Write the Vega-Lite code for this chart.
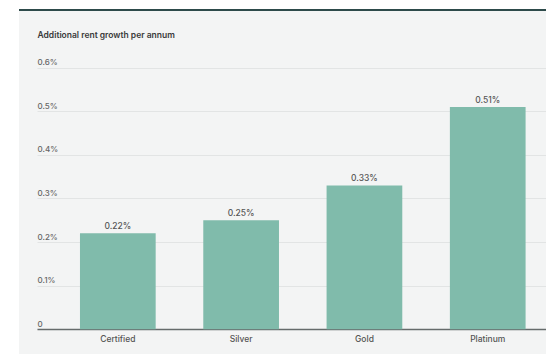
{
  "$schema": "https://vega.github.io/schema/vega-lite/v6.json",
  "width": 527,
  "height": 344,
  "autosize": "none",
  "padding": {"left": 19, "top": 10, "right": 0, "bottom": 0},
  "background": "white",
  "config": {
    "view": {"fill": "#f3f4f4", "stroke": null},
    "font": "Inter"
  },
  "data": {
    "values": [
      {"level": "Certified", "growth": 0.0022},
      {"level": "Silver", "growth": 0.0025},
      {"level": "Gold", "growth": 0.0033},
      {"level": "Platinum", "growth": 0.0051}
    ]
  },
  "layer": [
    {
      "mark": {"type": "bar", "color": "#80bbab"},
      "encoding": {
        "x": {
          "field": "level",
          "type": "nominal",
          "sort": null,
          "scale": {"range": [18, 527], "paddingInner": 0.386, "paddingOuter": 0.257, "align": 0.678},
          "axis": {
            "title": null,
            "offset": -25,
            "labelAngle": 0,
            "ticks": false,
            "tickSize": 0,
            "labelPadding": 5,
            "labelFontSize": 8.5,
            "labelColor": "#555555",
            "labelFontWeight": 500,
            "domainColor": "#666b6b",
            "domainWidth": 1.5,
            "grid": false
          }
        },
        "y": {
          "field": "growth",
          "type": "quantitative",
          "scale": {"domain": [-0.000567, 0.007323], "nice": false, "zero": false},
          "axis": {
            "values": [0, 0.001, 0.002, 0.003, 0.004, 0.005, 0.006],
            "labelExpr": "datum.value === 0 ? '0' : format(datum.value, '.1%')",
            "domain": false,
            "ticks": false,
            "tickSize": 0,
            "labelAlign": "left",
            "labelBaseline": "alphabetic",
            "labelPadding": -18,
            "labelOffset": -3,
            "labelFontSize": 8,
            "labelFontWeight": 500,
            "labelColor": "#666666",
            "gridColor": "#e2e4e4",
            "gridWidth": 1,
            "title": "Additional rent growth per annum",
            "titleAngle": 0,
            "titleAlign": "left",
            "titleBaseline": "alphabetic",
            "titleX": 18,
            "titleY": 27,
            "titleFontSize": 8.5,
            "titleFontWeight": 600,
            "titleColor": "#3a3a3a"
          }
        }
      }
    },
    {
      "mark": {"type": "text", "baseline": "alphabetic", "dy": -4, "fontSize": 8.5, "fontWeight": 500, "color": "#555555"},
      "encoding": {
        "x": {"field": "level", "type": "nominal", "sort": null},
        "y": {"field": "growth", "type": "quantitative"},
        "text": {"field": "growth", "type": "quantitative", "format": ".2%"}
      }
    },
    {
      "mark": {"type": "rule", "color": "#2d4a4a", "strokeWidth": 2},
      "encoding": {"y": {"datum": 0.007323}}
    }
  ]
}
